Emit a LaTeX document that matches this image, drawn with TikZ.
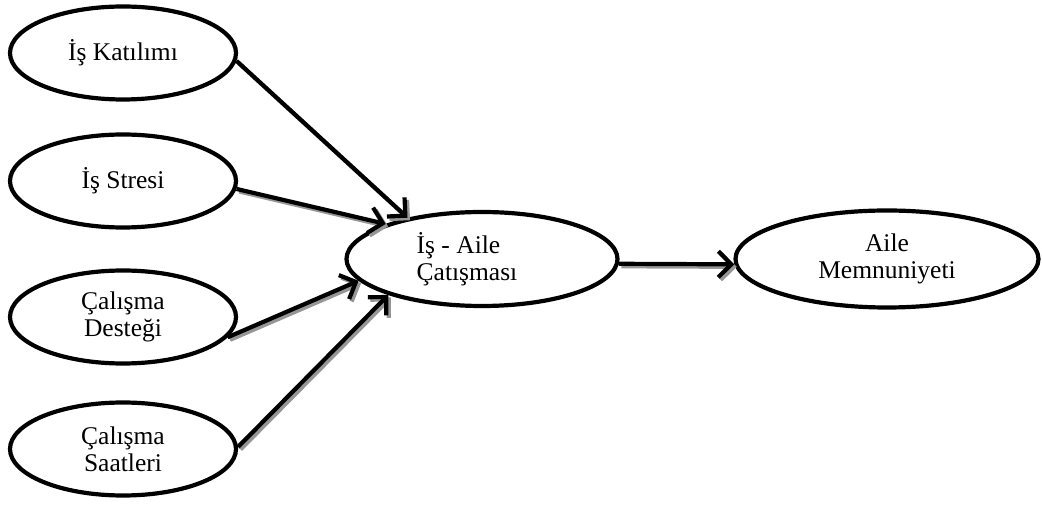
\documentclass[tikz,border=0pt]{standalone}
\usepackage{fontspec}
\setmainfont{Liberation Serif}
\usetikzlibrary{shapes.geometric,arrows.meta}
\begin{document}
\begin{tikzpicture}[x=1pt,y=1pt,
  oval/.style={ellipse,draw=black,line width=4.2pt,inner sep=0pt,
    font=\fontsize{25.5}{27}\selectfont,align=center},
  smalloval/.style={oval,minimum width=226pt,minimum height=93pt},
  lbl/.style={font=\fontsize{25.5}{27}\selectfont,align=left,inner sep=0pt},
  conn/.style={line width=4.2pt,-{Straight Barb[length=13pt,width=26pt]}},
  shadowconn/.style={conn,draw={rgb,255:red,150;green,150;blue,150},
    transform canvas={shift={(2.5pt,-2.5pt)}}}]
\useasboundingbox (0,0) rectangle (1042,506);
\node[smalloval] (e1) at (123,453) {İş Katılımı};
\node[smalloval] (e2) at (123,325) {İş Stresi};
\node[smalloval] (e3) at (123,189) {Çalışma\\Desteği};
\node[smalloval] (e4) at (123,57) {Çalışma\\Saatleri};
\node[oval,minimum width=271pt,minimum height=94pt] (c) at (482,247) {};
\node[lbl] (ct) at (467,247) {İş - Aile\\Çatışması};
\node[oval,minimum width=303pt,minimum height=97pt] (r) at (887,247) {Aile\\Memnuniyeti};
% shadows
\draw[shadowconn] (e1.-4) -- (c.151);
\draw[shadowconn] (e2.-4) -- (c.160);
\draw[shadowconn] (e3.-11) -- (c.190);
\draw[shadowconn] (e4.1) -- (c.201);
\draw[shadowconn] (c.-2.5) -- (r.182);
% arrows
\draw[conn] (e1.-4) -- (c.151);
\draw[conn] (e2.-4) -- (c.160);
\draw[conn] (e3.-11) -- (c.190);
\draw[conn] (e4.1) -- (c.201);
\draw[conn] (c.-2.5) -- (r.182);
\end{tikzpicture}
\end{document}
